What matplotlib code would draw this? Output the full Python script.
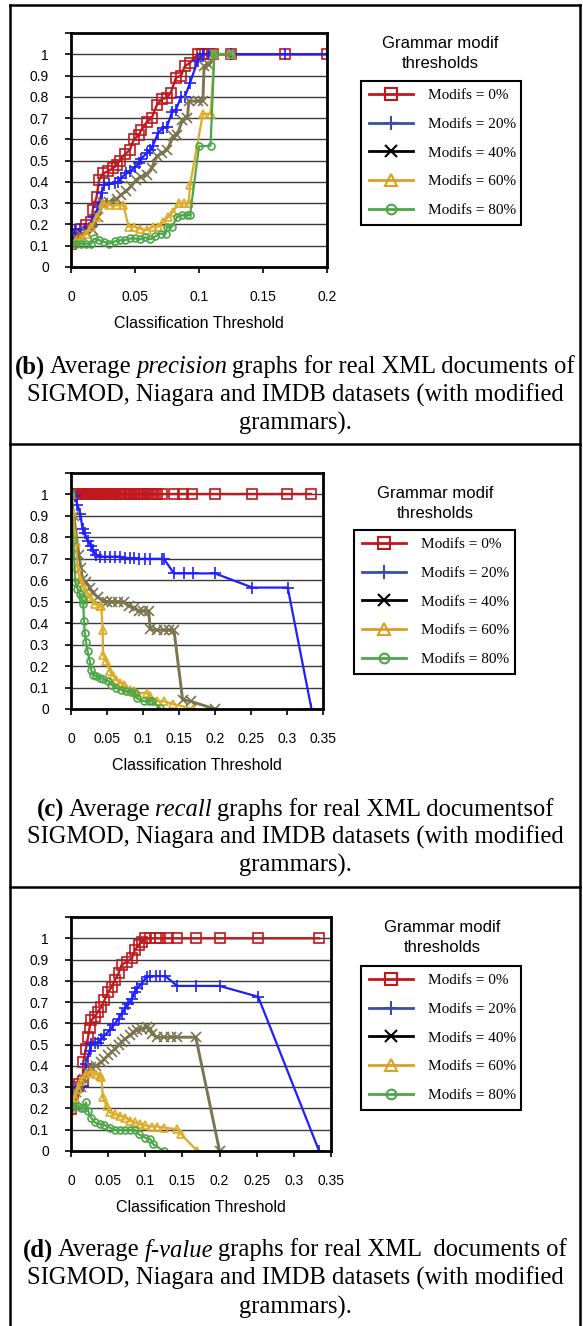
import matplotlib
matplotlib.use("Agg")
import matplotlib.pyplot as plt
from matplotlib.lines import Line2D

W, H = 583, 1326

# ---- (b) precision ----
prec_x_0 = [0, 0.004, 0.008, 0.012, 0.016, 0.017, 0.02, 0.022, 0.025, 0.029, 0.033, 0.036,
            0.038, 0.042, 0.046, 0.049, 0.053, 0.055, 0.059, 0.063, 0.067, 0.071, 0.075, 0.078,
            0.082, 0.086, 0.089, 0.093, 0.099, 0.102, 0.105, 0.108, 0.111, 0.125, 0.167, 0.2]
prec_y_0 = [0.11, 0.157, 0.18, 0.197, 0.21, 0.27, 0.33, 0.41, 0.44, 0.45, 0.465, 0.48,
            0.5, 0.53, 0.55, 0.6, 0.62, 0.645, 0.68, 0.7, 0.76, 0.79, 0.795, 0.82,
            0.89, 0.9, 0.945, 0.96, 1.0, 1.0, 1.0, 1.0, 1.0, 1.0, 1.0, 1.0]
prec_x_20 = [0, 0.003, 0.007, 0.011, 0.014, 0.018, 0.021, 0.024, 0.026, 0.03, 0.034, 0.037,
             0.039, 0.043, 0.046, 0.05, 0.053, 0.055, 0.059, 0.062, 0.064, 0.068, 0.072, 0.075,
             0.079, 0.082, 0.086, 0.089, 0.093, 0.099, 0.103, 0.108, 0.125, 0.167, 0.2]
prec_y_20 = [0.11, 0.175, 0.178, 0.178, 0.18, 0.236, 0.28, 0.35, 0.385, 0.39, 0.395, 0.4,
             0.417, 0.44, 0.45, 0.47, 0.49, 0.51, 0.535, 0.55, 0.57, 0.63, 0.655, 0.66,
             0.73, 0.74, 0.8, 0.8, 0.866, 0.97, 1.0, 1.0, 1.0, 1.0, 1.0]
prec_x_40 = [0, 0.004, 0.008, 0.012, 0.017, 0.021, 0.025, 0.03, 0.036, 0.039, 0.043, 0.047,
             0.051, 0.055, 0.059, 0.063, 0.067, 0.071, 0.075, 0.08, 0.083, 0.087, 0.091, 0.092,
             0.099, 0.103, 0.104, 0.108, 0.112, 0.125]
prec_y_40 = [0.11, 0.134, 0.15, 0.165, 0.173, 0.236, 0.3, 0.307, 0.32, 0.34, 0.355, 0.38,
             0.41, 0.425, 0.433, 0.465, 0.52, 0.535, 0.55, 0.614, 0.622, 0.69, 0.7, 0.78,
             0.78, 0.78, 0.945, 0.95, 1.0, 1.0]
prec_x_60 = [0, 0.004, 0.008, 0.012, 0.016, 0.02, 0.025, 0.03, 0.036, 0.041, 0.045, 0.049,
             0.054, 0.059, 0.064, 0.068, 0.072, 0.076, 0.08, 0.084, 0.088, 0.092, 0.093, 0.103,
             0.109, 0.112, 0.125]
prec_y_60 = [0.11, 0.12, 0.13, 0.157, 0.19, 0.235, 0.3, 0.29, 0.29, 0.29, 0.19, 0.19,
             0.18, 0.173, 0.19, 0.19, 0.21, 0.236, 0.26, 0.3, 0.3, 0.3, 0.385, 0.72,
             0.72, 1.0, 1.0]
prec_x_80 = [0, 0.004, 0.008, 0.012, 0.016, 0.018, 0.022, 0.026, 0.03, 0.034, 0.038, 0.042,
             0.046, 0.05, 0.054, 0.058, 0.062, 0.066, 0.07, 0.074, 0.075, 0.079, 0.083, 0.087,
             0.091, 0.093, 0.1, 0.109, 0.112, 0.125]
prec_y_80 = [0.11, 0.11, 0.11, 0.11, 0.11, 0.134, 0.126, 0.118, 0.11, 0.12, 0.126, 0.126,
             0.134, 0.134, 0.13, 0.14, 0.13, 0.145, 0.157, 0.157, 0.19, 0.19, 0.236, 0.244,
             0.244, 0.244, 0.567, 0.57, 1.0, 1.0]

# ---- (c) recall ----
rec_x_0 = [0, 0.0015, 0.003, 0.0045, 0.006, 0.0075, 0.009, 0.0105, 0.012, 0.0135, 0.015, 0.0165,
           0.018, 0.0195, 0.021, 0.0225, 0.024, 0.0255, 0.027, 0.0285, 0.03, 0.0315, 0.033, 0.0345,
           0.036, 0.0375, 0.039, 0.0405, 0.042, 0.0435, 0.045, 0.0465, 0.048, 0.0495, 0.051, 0.0525,
           0.054, 0.0555, 0.057, 0.0585, 0.06, 0.063, 0.066, 0.069, 0.072, 0.075, 0.078, 0.081,
           0.084, 0.087, 0.09, 0.093, 0.096, 0.099, 0.102, 0.105, 0.108, 0.111, 0.114, 0.117,
           0.12, 0.126, 0.143, 0.156, 0.168, 0.2, 0.252, 0.3, 0.334]
rec_y_0 = [1.0, 1.0, 1.0, 1.0, 1.0, 1.0, 1.0, 1.0, 1.0, 1.0, 1.0, 1.0,
           1.0, 1.0, 1.0, 1.0, 1.0, 1.0, 1.0, 1.0, 1.0, 1.0, 1.0, 1.0,
           1.0, 1.0, 1.0, 1.0, 1.0, 1.0, 1.0, 1.0, 1.0, 1.0, 1.0, 1.0,
           1.0, 1.0, 1.0, 1.0, 1.0, 1.0, 1.0, 1.0, 1.0, 1.0, 1.0, 1.0,
           1.0, 1.0, 1.0, 1.0, 1.0, 1.0, 1.0, 1.0, 1.0, 1.0, 1.0, 1.0,
           1.0, 1.0, 1.0, 1.0, 1.0, 1.0, 1.0, 1.0, 1.0]
rec_x_20 = [0, 0.005, 0.009, 0.013, 0.016, 0.019, 0.023, 0.028, 0.03, 0.035, 0.04, 0.047,
            0.054, 0.061, 0.068, 0.075, 0.082, 0.087, 0.094, 0.103, 0.11, 0.127, 0.129, 0.143,
            0.157, 0.169, 0.2, 0.252, 0.301, 0.334]
rec_y_20 = [1.0, 0.995, 0.95, 0.91, 0.84, 0.82, 0.785, 0.76, 0.74, 0.72, 0.71, 0.71,
            0.71, 0.71, 0.71, 0.705, 0.703, 0.702, 0.7, 0.7, 0.7, 0.7, 0.7, 0.632,
            0.632, 0.632, 0.632, 0.566, 0.566, 0.0]
rec_x_40 = [0, 0.004, 0.011, 0.014, 0.016, 0.021, 0.026, 0.03, 0.0375, 0.045, 0.05, 0.057,
            0.065, 0.073, 0.08, 0.087, 0.094, 0.1, 0.108, 0.11, 0.12, 0.129, 0.136, 0.143,
            0.155, 0.166, 0.2]
rec_y_40 = [1.0, 0.898, 0.718, 0.655, 0.605, 0.59, 0.566, 0.543, 0.52, 0.504, 0.5, 0.5,
            0.5, 0.497, 0.48, 0.473, 0.457, 0.457, 0.457, 0.371, 0.368, 0.368, 0.368, 0.368,
            0.044, 0.036, 0.0]
rec_x_60 = [0, 0.002, 0.007, 0.009, 0.012, 0.016, 0.021, 0.026, 0.033, 0.04, 0.042, 0.044,
            0.0445, 0.049, 0.054, 0.059, 0.063, 0.068, 0.073, 0.077, 0.082, 0.087, 0.091, 0.105,
            0.11, 0.12, 0.129, 0.142, 0.17]
rec_y_60 = [1.0, 0.92, 0.78, 0.66, 0.605, 0.574, 0.543, 0.52, 0.488, 0.48, 0.48, 0.37,
            0.254, 0.223, 0.176, 0.153, 0.137, 0.122, 0.114, 0.098, 0.09, 0.083, 0.075, 0.075,
            0.06, 0.036, 0.036, 0.023, 0.0]
rec_x_80 = [0, 0.003, 0.006, 0.009, 0.012, 0.015, 0.016, 0.017, 0.018, 0.019, 0.021, 0.023,
            0.026, 0.028, 0.03, 0.035, 0.04, 0.045, 0.052, 0.056, 0.063, 0.07, 0.077, 0.084,
            0.089, 0.091, 0.101, 0.108, 0.113, 0.124]
rec_y_80 = [1.0, 0.79, 0.59, 0.56, 0.535, 0.52, 0.51, 0.49, 0.41, 0.356, 0.31, 0.27,
            0.223, 0.184, 0.16, 0.153, 0.145, 0.14, 0.13, 0.114, 0.098, 0.09, 0.083, 0.08,
            0.075, 0.05, 0.036, 0.036, 0.036, 0.003]

# ---- (d) f-value ----
f_x_0 = [0, 0.003, 0.007, 0.011, 0.016, 0.0165, 0.02, 0.023, 0.025, 0.027, 0.032, 0.036,
         0.041, 0.045, 0.05, 0.055, 0.059, 0.064, 0.068, 0.075, 0.082, 0.086, 0.091, 0.095,
         0.1, 0.107, 0.114, 0.12, 0.13, 0.143, 0.168, 0.2, 0.252, 0.334]
f_y_0 = [0.197, 0.268, 0.3, 0.315, 0.33, 0.417, 0.48, 0.535, 0.58, 0.614, 0.63, 0.654,
         0.677, 0.709, 0.748, 0.772, 0.803, 0.835, 0.874, 0.89, 0.905, 0.945, 0.968, 0.984,
         1.0, 1.0, 1.0, 1.0, 1.0, 1.0, 1.0, 1.0, 1.0, 1.0]
f_x_20 = [0, 0.002, 0.007, 0.011, 0.016, 0.02, 0.025, 0.027, 0.032, 0.036, 0.041, 0.045,
          0.052, 0.057, 0.064, 0.068, 0.073, 0.077, 0.082, 0.086, 0.089, 0.095, 0.102, 0.107,
          0.114, 0.12, 0.127, 0.143, 0.168, 0.2, 0.252, 0.334]
f_y_20 = [0.27, 0.268, 0.29, 0.3, 0.307, 0.41, 0.47, 0.504, 0.51, 0.51, 0.527, 0.543,
          0.567, 0.59, 0.622, 0.645, 0.67, 0.693, 0.716, 0.748, 0.764, 0.787, 0.819, 0.822,
          0.822, 0.822, 0.822, 0.776, 0.776, 0.776, 0.725, 0.0]
f_x_40 = [0, 0.002, 0.007, 0.014, 0.018, 0.023, 0.027, 0.034, 0.041, 0.045, 0.05, 0.055,
          0.059, 0.064, 0.068, 0.073, 0.08, 0.084, 0.089, 0.095, 0.102, 0.107, 0.109, 0.116,
          0.125, 0.134, 0.143, 0.168, 0.2]
f_y_40 = [0.2, 0.26, 0.276, 0.3, 0.34, 0.37, 0.394, 0.4, 0.417, 0.433, 0.449, 0.465,
          0.48, 0.496, 0.512, 0.528, 0.543, 0.559, 0.567, 0.575, 0.583, 0.575, 0.551, 0.535,
          0.535, 0.535, 0.535, 0.535, 0.0]
f_x_60 = [0, 0.005, 0.009, 0.014, 0.02, 0.027, 0.034, 0.039, 0.041, 0.043, 0.048, 0.052,
          0.059, 0.066, 0.073, 0.08, 0.086, 0.093, 0.1, 0.109, 0.116, 0.125, 0.143, 0.148, 0.17]
f_y_60 = [0.2, 0.25, 0.29, 0.33, 0.362, 0.37, 0.362, 0.354, 0.346, 0.252, 0.213, 0.181,
          0.173, 0.165, 0.157, 0.142, 0.134, 0.126, 0.12, 0.115, 0.115, 0.11, 0.102, 0.079, 0.0]
f_x_80 = [0, 0.005, 0.009, 0.014, 0.018, 0.02, 0.023, 0.027, 0.032, 0.039, 0.045, 0.052,
          0.059, 0.066, 0.073, 0.08, 0.086, 0.091, 0.1, 0.107, 0.111, 0.125]
f_y_80 = [0.205, 0.21, 0.21, 0.2, 0.2, 0.228, 0.19, 0.157, 0.134, 0.126, 0.123, 0.11,
          0.1, 0.1, 0.1, 0.1, 0.1, 0.079, 0.063, 0.055, 0.031, 0.0]

labels = ["Modifs = 0%", "Modifs = 20%", "Modifs = 40%", "Modifs = 60%", "Modifs = 80%"]
y_ticks = [0, 0.1, 0.2, 0.3, 0.4, 0.5, 0.6, 0.7, 0.8, 0.9, 1, 1.1]
y_ticklabels = ["0", "0.1", "0.2", "0.3", "0.4", "0.5", "0.6", "0.7", "0.8", "0.9", "1", ""]

# colour, marker, marker size, line width
styles = [
    ("#c0181c", "s", 7.0, 1.7),
    ("#1f1fff", "+", 8.0, 1.6),
    ("#7a744f", "x", 6.5, 2.1),
    ("#dfab26", "^", 6.0, 1.6),
    ("#4ea64a", "o", 5.0, 1.6),
]
leg_colors = ["#c0181c", "#3a4fa8", "#000000", "#d9a024", "#4ea64a"]

SANS = "Liberation Sans"
SERIF = "Liberation Serif"
CAP_SIZE = 17.7

fig = plt.figure(figsize=(W / 100, H / 100), dpi=100)


def fx(px):
    return px / W


def fy(py):
    return 1 - py / H


def caption(y_px, segs):
    r = fig.canvas.get_renderer()
    arts = [fig.text(0, fy(y_px), s, fontsize=CAP_SIZE, fontfamily=SERIF, weight=w, style=st,
                     ha="left", va="center") for s, w, st in segs]
    widths = [a.get_window_extent(r).width for a in arts]
    gap = 0.2 * CAP_SIZE * 100 / 72
    total = sum(widths) + gap * (len(arts) - 1)
    x = 295 - total / 2
    for a, wdt in zip(arts, widths):
        a.set_x(fx(x))
        x += wdt + gap


def panel(top, bottom, right, xmax, xticks, series, leg_box, title_xy, cap_lines):
    ax = fig.add_axes([fx(71), fy(bottom), (right - 71) / W, (bottom - top) / H])
    for v in y_ticks[1:-1]:
        ax.axhline(v, color="#3a3a3a", lw=1.0, zorder=0.5)
    for (x, y), (c, m, ms, lw) in zip(series, styles):
        ax.plot(x, y, color=c, lw=lw, marker=m, ms=ms, mfc="none", mec=c, mew=1.2)
    ax.set_xlim(0, xmax)
    ax.set_ylim(0, 1.1)
    ax.set_xticks(xticks)
    ax.set_xticklabels(["0" if t == 0 else f"{t:g}" for t in xticks])
    ax.set_yticks(y_ticks)
    ax.set_yticklabels(y_ticklabels)
    for s in ax.spines.values():
        s.set_linewidth(2.0)
    ax.tick_params(axis="y", direction="out", length=4, width=1.2, pad=12, labelsize=10)
    ax.tick_params(axis="x", direction="out", length=4, width=1.2, pad=12.5, labelsize=10)
    for t in ax.get_xticklabels() + ax.get_yticklabels():
        t.set_fontfamily(SANS)
    ax.set_xlabel("Classification Threshold", fontsize=11.5, fontfamily=SANS)
    ax.xaxis.set_label_coords(0.5, -56 / (bottom - top))
    ax.xaxis.label.set_va("center")

    handles = [Line2D([], [], color=lc, lw=2.0, marker=m, ms=ms + 2, mfc="none", mec=lc, mew=1.5)
               for lc, (c, m, ms, lw) in zip(leg_colors, styles)]
    x0, y0, x1, y1 = leg_box
    leg = ax.legend(handles, labels, loc="upper left", mode="expand",
                    bbox_to_anchor=(fx(x0), fy(y1), (x1 - x0) / W, (y1 - y0) / H),
                    bbox_transform=fig.transFigure, borderaxespad=0, fancybox=False,
                    edgecolor="black", framealpha=1, handlelength=2.9, handletextpad=1.0,
                    labelspacing=0.98, borderpad=0.5, prop={"family": SERIF, "size": 11})
    leg.get_frame().set_linewidth(1.5)

    tx, ty = title_xy
    fig.text(fx(tx), fy(ty), "Grammar modif", ha="center", va="center", fontsize=12, fontfamily=SANS)
    fig.text(fx(tx), fy(ty + 20), "thresholds", ha="center", va="center", fontsize=12, fontfamily=SANS)

    for y_px, segs in cap_lines:
        caption(y_px, segs)
    return ax


N = "normal"
panel(33, 267, 327, 0.2, [0, 0.05, 0.1, 0.15, 0.2],
      [(prec_x_0, prec_y_0), (prec_x_20, prec_y_20), (prec_x_40, prec_y_40),
       (prec_x_60, prec_y_60), (prec_x_80, prec_y_80)],
      (361, 81, 521, 224), (440, 43),
      [(367, [("(b)", "bold", N), ("Average", N, N), ("precision", N, "italic"),
              ("graphs for real XML documents of", N, N)]),
       (395, [("SIGMOD, Niagara and IMDB datasets (with modified", N, N)]),
       (423, [("grammars).", N, N)])])

panel(473, 709, 323, 0.35, [0, 0.05, 0.1, 0.15, 0.2, 0.25, 0.3, 0.35],
      [(rec_x_0, rec_y_0), (rec_x_20, rec_y_20), (rec_x_40, rec_y_40),
       (rec_x_60, rec_y_60), (rec_x_80, rec_y_80)],
      (354, 530, 515, 673), (435, 493),
      [(810, [("(c)", "bold", N), ("Average", N, N), ("recall", N, "italic"),
              ("graphs for real XML documentsof", N, N)]),
       (837, [("SIGMOD, Niagara and IMDB datasets (with modified", N, N)]),
       (865, [("grammars).", N, N)])])

panel(917, 1151, 331, 0.35, [0, 0.05, 0.1, 0.15, 0.2, 0.25, 0.3, 0.35],
      [(f_x_0, f_y_0), (f_x_20, f_y_20), (f_x_40, f_y_40),
       (f_x_60, f_y_60), (f_x_80, f_y_80)],
      (361, 966, 521, 1109), (442, 928),
      [(1250, [("(d)", "bold", N), ("Average", N, N), ("f-value", N, "italic"),
               ("graphs for real XML  documents of", N, N)]),
       (1278, [("SIGMOD, Niagara and IMDB datasets (with modified", N, N)]),
       (1307, [("grammars).", N, N)])])

# outer frame of the three figure cells
for y in (5, 444.5, 886.5):
    fig.add_artist(Line2D([fx(10), fx(580)], [fy(y), fy(y)], color="black", lw=1.8))
for x in (10, 580):
    fig.add_artist(Line2D([fx(x), fx(x)], [fy(5), fy(1326)], color="black", lw=1.8))

fig.savefig("out.png", dpi=100)
